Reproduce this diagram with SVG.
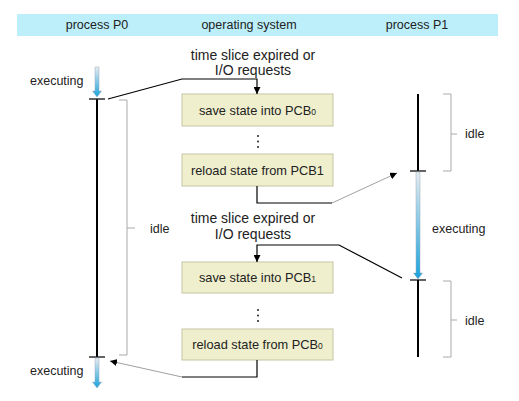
<svg xmlns="http://www.w3.org/2000/svg" width="519" height="401" viewBox="0 0 519 401">
<style>
text{font-family:"Liberation Sans",Arial,sans-serif;fill:#222}
.h{font-size:12.5px;text-anchor:middle}
.l{font-size:12.5px}
.t{font-size:14px;text-anchor:middle}
.b{font-size:12.8px;text-anchor:middle}
.sub{font-size:8.5px}
.box{fill:#efefcd;stroke:#c5c5a5;stroke-width:1}
.tl{stroke:#000;stroke-width:2;fill:none}
.tick{stroke:#222;stroke-width:1.4;fill:none}
.br{stroke:#aaa;stroke-width:1;fill:none}
.cn{stroke:#000;stroke-width:1.2;fill:none}
.cg{stroke:#888;stroke-width:0.8;fill:none}
.ga{fill:url(#g);stroke:#9ab;stroke-width:0.5}
</style>
<defs>
<linearGradient id="g" x1="0" y1="0" x2="0" y2="1">
<stop offset="0" stop-color="#e6ecf0"/>
<stop offset="1" stop-color="#1aa2dc"/>
</linearGradient>
<marker id="ah" viewBox="0 0 10 10" refX="10" refY="5" markerWidth="7" markerHeight="7" orient="auto" markerUnits="userSpaceOnUse">
<path d="M0,0L10,5L0,10z" fill="#000"/>
</marker>
</defs>
<rect x="17" y="14" width="481" height="22" fill="#bdeffa"/>
<text class="h" x="97" y="29">process P0</text>
<text class="h" x="249" y="29">operating system</text>
<text class="h" x="417" y="29">process P1</text>

<g id="p0">
<path class="ga" d="M95,67H99V91H101.5L97,97L92.5,91H95Z"/>
<line class="tl" x1="97" y1="99" x2="97" y2="357"/>
<line class="tick" x1="89" y1="99" x2="105" y2="99"/>
<line class="tick" x1="89" y1="357" x2="105" y2="357"/>
<path class="ga" d="M95,358H99V382H101.5L97,388L92.5,382H95Z"/>
<text class="l" x="30" y="85">executing</text>
<text class="l" x="30" y="375">executing</text>
<path class="br" d="M119,100H127V355H119M127,228H135"/>
<text class="l" x="150" y="233">idle</text>
</g>

<g id="p1">
<line class="tl" x1="418" y1="94" x2="418" y2="171"/>
<line class="tick" x1="410" y1="171" x2="426" y2="171"/>
<path class="ga" d="M416,172H420V273H422.5L418,279L413.5,273H416Z"/>
<line class="tick" x1="410" y1="280" x2="426" y2="280"/>
<line class="tl" x1="418" y1="280" x2="418" y2="357"/>
<path class="br" d="M443,94H451V171H443M451,134H457"/>
<text class="l" x="465" y="138">idle</text>
<path class="br" d="M443,281H451V357H443M451,320H457"/>
<text class="l" x="465" y="325">idle</text>
<text class="l" x="432" y="233">executing</text>
</g>

<g id="os">
<text class="t" x="253" y="60">time slice expired or</text>
<text class="t" x="253" y="75">I/O requests</text>
<text class="t" x="253" y="223">time slice expired or</text>
<text class="t" x="253" y="239">I/O requests</text>
</g>

<g id="box1"><rect class="box" x="182" y="94" width="151" height="32"/><text class="b" x="257.5" y="114.5">save state into PCB<tspan class="sub">0</tspan></text></g>
<g id="dots1" fill="#222"><circle cx="258" cy="136" r="1"/><circle cx="258" cy="141.5" r="1"/><circle cx="258" cy="147" r="1"/></g>
<g id="box2"><rect class="box" x="182" y="154" width="151" height="32"/><text class="b" x="257.5" y="174.5">reload state from PCB1</text></g>
<g id="box3"><rect class="box" x="182" y="262" width="151" height="31"/><text class="b" x="257.5" y="282">save state into PCB<tspan class="sub">1</tspan></text></g>
<g id="dots2" fill="#222"><circle cx="258" cy="310" r="1"/><circle cx="258" cy="315.5" r="1"/><circle cx="258" cy="321" r="1"/></g>
<g id="box4"><rect class="box" x="182" y="329" width="151" height="31"/><text class="b" x="257.5" y="349">reload state from PCB<tspan class="sub">0</tspan></text></g>

<g id="connectors">
<path class="cn" d="M108,99L182,79H257V94" marker-end="url(#ah)"/>
<path class="cn" d="M257,186V203H332"/>
<path class="cg" d="M332,203L397,173" marker-end="url(#ah)"/>
<path class="cn" d="M402,278L339,245H257V262" marker-end="url(#ah)"/>
<path class="cn" d="M257,360V377H182"/>
<path class="cg" d="M182,377L110,361" marker-end="url(#ah)"/>
</g>
</svg>
